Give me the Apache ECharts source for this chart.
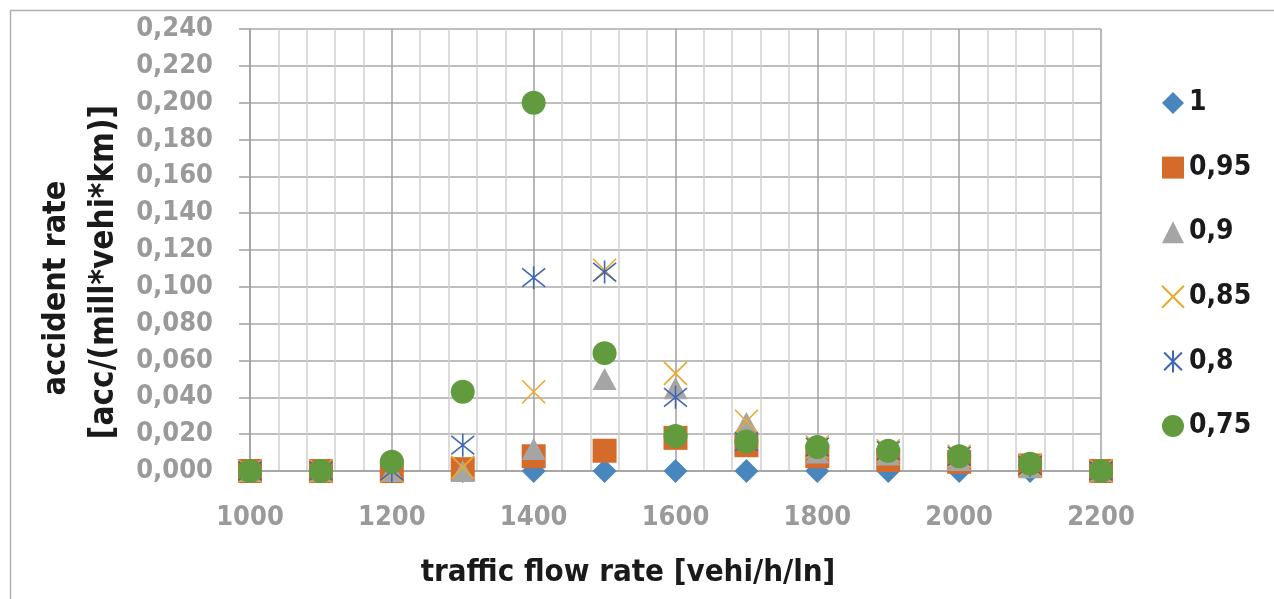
<!DOCTYPE html>
<html>
<head>
<meta charset="utf-8">
<script src="https://cdn.jsdelivr.net/npm/echarts@6/dist/echarts.min.js"></script>
<style>
html,body{margin:0;padding:0;background:#fff;}
#chart{width:1274px;height:599px;}
</style>
</head>
<body>
<div id="chart"></div>
<script>
// ---- data ----
const flows = [1000, 1100, 1200, 1300, 1400, 1500, 1600, 1700, 1800, 1900, 2000, 2100, 2200];
const seriesNames = ['1', '0,95', '0,9', '0,85', '0,8', '0,75'];
const s100 = [0, 0, 0, 0, 0, 0, 0, 0, 0, 0, 0, 0, 0];
const s095 = [0, 0, 0, 0.001, 0.008, 0.011, 0.018, 0.014, 0.008, 0.006, 0.005, 0.003, 0];
const s090 = [0, 0, 0, 0, 0.012, 0.050, 0.045, 0.026, 0.010, 0.009, 0.006, 0.002, 0];
const s085 = [0, 0, 0, 0.002, 0.043, 0.109, 0.053, 0.027, 0.013, 0.011, 0.008, 0.003, 0];
const s080 = [0, 0, 0, 0.014, 0.105, 0.108, 0.040, 0.016, 0.013, 0.011, 0.008, 0.003, 0];
const s075 = [0, 0, 0.005, 0.043, 0.200, 0.064, 0.019, 0.016, 0.013, 0.011, 0.008, 0.004, 0];
const xTicks = [1000, 1200, 1400, 1600, 1800, 2000, 2200];
const yTicks = [0, 0.02, 0.04, 0.06, 0.08, 0.10, 0.12, 0.14, 0.16, 0.18, 0.20, 0.22, 0.24];
const xTitle = 'traffic flow rate [vehi/h/ln]';
const yTitle1 = 'accident rate';
const yTitle2 = '[acc/(mill*vehi*km)]';

const FONT = "'DejaVu Sans Condensed', 'Liberation Sans Narrow', 'Roboto Condensed', 'Roboto', sans-serif";
const colors = ['#4a86be', '#d56b2b', '#a5a5a5', '#e9a82b', '#3f67b5', '#619b3e'];
const symbols = ['diamond', 'rect', 'triangle',
  'path://M0,0L10,10M10,0L0,10',
  'path://M0,0L10,10M10,0L0,10M5,-1.2L5,11.2',
  'circle'];
const allData = [s100, s095, s090, s085, s080, s075];

function pair(arr) { return flows.map((f, i) => [f, arr[i]]); }

const series = seriesNames.map((name, k) => {
  const isLine = k === 3 || k === 4;
  return {
    name: name,
    type: 'scatter',
    data: pair(allData[k]),
    symbol: symbols[k],
    symbolSize: isLine ? 23 : (k === 2 ? [24, 22] : 24),
    itemStyle: isLine
      ? { color: 'rgba(0,0,0,0)', borderColor: colors[k], borderWidth: 1.6, opacity: 1 }
      : { color: colors[k], opacity: 1 },
    emphasis: { disabled: true }
  };
});

const chart = echarts.init(document.getElementById('chart'), null, { renderer: 'canvas' });
chart.setOption({
  animation: false,
  backgroundColor: '#ffffff',
  grid: { left: 250, right: 173, top: 29, bottom: 128, containLabel: false },
  xAxis: {
    type: 'value',
    min: xTicks[0], max: xTicks[xTicks.length - 1], interval: 200,
    axisLine: { show: true, lineStyle: { color: '#a0a0a0', width: 1.5 } },
    axisTick: { show: false },
    minorTick: { show: false, splitNumber: 5 },
    splitLine: { show: true, lineStyle: { color: '#a0a0a0', width: 1.5 } },
    minorSplitLine: { show: true, lineStyle: { color: '#d0d0d0', width: 1.5 } },
    axisLabel: {
      margin: 33, color: '#9a9a9a', fontFamily: FONT, fontWeight: 'bold', fontSize: 27,
      formatter: v => String(v)
    }
  },
  yAxis: {
    type: 'value',
    min: yTicks[0], max: yTicks[yTicks.length - 1], interval: 0.02,
    axisLine: { show: true, lineStyle: { color: '#a0a0a0', width: 1.5 } },
    axisTick: { show: true, length: 11, lineStyle: { color: '#a0a0a0', width: 1.5 } },
    splitLine: { show: true, lineStyle: { color: '#a8a8a8', width: 1.5 } },
    axisLabel: {
      margin: 37, color: '#9a9a9a', fontFamily: FONT, fontWeight: 'bold', fontSize: 27,
      formatter: v => v.toFixed(3).replace('.', ',')
    }
  },
  legend: {
    orient: 'vertical',
    left: 1156, top: 83,
    itemWidth: 22, itemHeight: 22, itemGap: 34.6,
    textStyle: { color: '#1a1a1a', fontFamily: FONT, fontWeight: 'bold', fontSize: 28, lineHeight: 30 },
    data: seriesNames
  },
  graphic: [
    { type: 'rect', left: 8, top: 8, shape: { width: 1400, height: 800 },
      style: { fill: 'none', stroke: '#b0b0b0', lineWidth: 1.5 }, silent: true, z: -10 },
    { type: 'text', x: 628, y: 573,
      style: { text: xTitle, fill: '#1a1a1a', font: "bold 31px " + FONT, textAlign: 'center', textVerticalAlign: 'middle' } },
    { type: 'text', x: 57, y: 288, rotation: Math.PI / 2,
      style: { text: yTitle1, fill: '#1a1a1a', font: "bold 32px " + FONT, textAlign: 'center', textVerticalAlign: 'middle' } },
    { type: 'text', x: 104, y: 272, rotation: Math.PI / 2,
      style: { text: yTitle2, fill: '#1a1a1a', font: "bold 33px " + FONT, textAlign: 'center', textVerticalAlign: 'middle' } }
  ],
  series: series
});
</script>
</body>
</html>
